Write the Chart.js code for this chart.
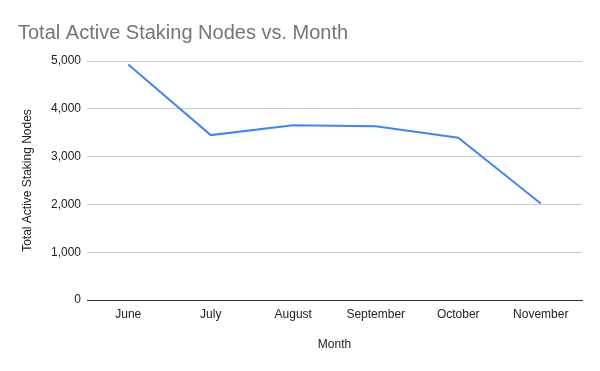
<!DOCTYPE html>
<html>
<head>
<meta charset="utf-8">
<script src="https://cdn.jsdelivr.net/npm/chart.js@4/dist/chart.umd.min.js"></script>
<style>
html,body{margin:0;padding:0;background:#fff;}
#wrap{width:600px;height:371px;position:relative;}
</style>
</head>
<body>
<div id="wrap"><canvas id="c" width="600" height="371"></canvas></div>
<script>
const chartTitle = "Total Active Staking Nodes vs. Month";
const months = ["June", "July", "August", "September", "October", "November"];
const activeNodes = [4925, 3450, 3655, 3635, 3395, 2020];
const yTicks = [0, 1000, 2000, 3000, 4000, 5000];
const xAxisTitle = "Month";
const yAxisTitle = "Total Active Staking Nodes";

const FONT = "Arial, 'Liberation Sans', sans-serif";

const titlePlugin = {
  id: 'sheetTitle',
  afterDraw(chart) {
    const ctx = chart.ctx;
    ctx.save();
    ctx.font = "20px " + FONT;
    ctx.fillStyle = "#757575";
    ctx.textAlign = "left";
    ctx.textBaseline = "alphabetic";
    ctx.fillText(chartTitle, 18, 39);
    ctx.restore();
  }
};

new Chart(document.getElementById('c'), {
  type: 'line',
  data: {
    labels: months,
    datasets: [{
      data: activeNodes,
      borderColor: '#4285f4',
      borderWidth: 2,
      pointRadius: 0,
      pointHoverRadius: 0,
      tension: 0,
      fill: false
    }]
  },
  options: {
    responsive: false,
    animation: false,
    devicePixelRatio: 1,
    layout: { padding: { left: 0, right: 18, top: 61, bottom: 0 } },
    plugins: {
      legend: { display: false },
      tooltip: { enabled: false },
      title: { display: false }
    },
    scales: {
      x: {
        type: 'category',
        offset: true,
        grid: { display: false, drawTicks: false },
        border: { display: true, color: '#333333', width: 1 },
        ticks: {
          color: '#222222',
          font: { family: FONT, size: 12 },
          padding: 7,
          maxRotation: 0,
          autoSkip: false
        },
        title: {
          display: true,
          text: xAxisTitle,
          color: '#222222',
          font: { family: FONT, size: 12 },
          padding: { top: 0, bottom: 19 }
        },
        afterFit(scale) { scale.height = 71; }
      },
      y: {
        min: 0,
        max: 5000,
        afterBuildTicks(scale) { scale.ticks = yTicks.map(v => ({ value: v })); },
        grid: { color: '#cccccc', lineWidth: 1, drawTicks: false },
        border: { display: false },
        ticks: {
          color: '#222222',
          font: { family: FONT, size: 12 },
          padding: 6,
          callback: (v) => v.toLocaleString('en-US')
        },
        title: {
          display: true,
          text: yAxisTitle,
          color: '#222222',
          font: { family: FONT, size: 12 },
          padding: { top: 20, bottom: 0 }
        },
        afterFit(scale) { scale.width = 87; }
      }
    }
  },
  plugins: [titlePlugin]
});
</script>
</body>
</html>
